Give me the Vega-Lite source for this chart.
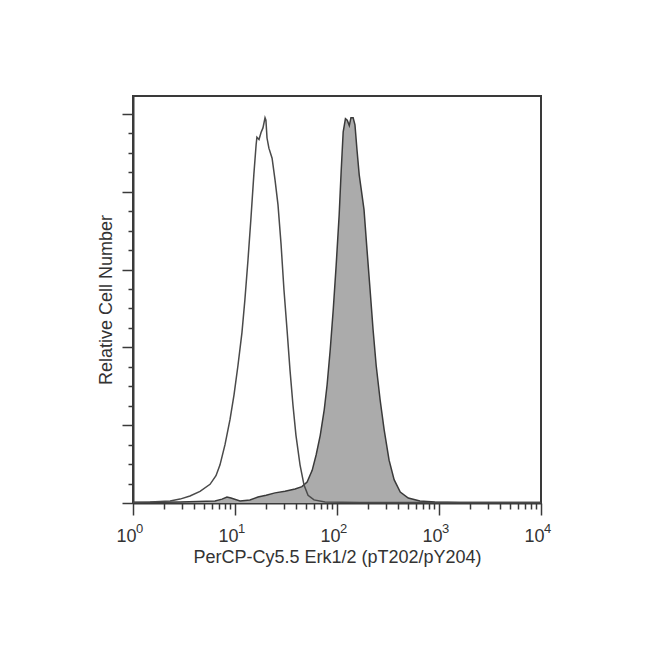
{
  "$schema": "https://vega.github.io/schema/vega-lite/v6.json",
  "width": 408,
  "height": 407,
  "autosize": {"type": "none"},
  "padding": {"left": 133, "top": 96, "right": 109, "bottom": 159},
  "background": "white",
  "config": {
    "view": {"stroke": "#3a3a3a", "strokeWidth": 2},
    "font": "Liberation Sans"
  },
  "data": {
    "values": [
      {"series": "control", "x": 1, "y": 0.01},
      {"series": "control", "x": 1.47, "y": 0.013},
      {"series": "control", "x": 2.31, "y": 0.026},
      {"series": "control", "x": 2.89, "y": 0.05},
      {"series": "control", "x": 3.62, "y": 0.09},
      {"series": "control", "x": 4.54, "y": 0.15},
      {"series": "control", "x": 5.69, "y": 0.24},
      {"series": "control", "x": 6.51, "y": 0.35},
      {"series": "control", "x": 7.13, "y": 0.49},
      {"series": "control", "x": 7.98, "y": 0.75},
      {"series": "control", "x": 8.93, "y": 1.07},
      {"series": "control", "x": 9.78, "y": 1.39},
      {"series": "control", "x": 10.7, "y": 1.77},
      {"series": "control", "x": 11.7, "y": 2.19},
      {"series": "control", "x": 12.5, "y": 2.61},
      {"series": "control", "x": 13.4, "y": 3.12},
      {"series": "control", "x": 14.3, "y": 3.64},
      {"series": "control", "x": 15.3, "y": 4.22},
      {"series": "control", "x": 16.1, "y": 4.6},
      {"series": "control", "x": 16.4, "y": 4.7},
      {"series": "control", "x": 17.2, "y": 4.67},
      {"series": "control", "x": 18.0, "y": 4.76},
      {"series": "control", "x": 18.8, "y": 4.82},
      {"series": "control", "x": 19.7, "y": 4.95},
      {"series": "control", "x": 20.1, "y": 4.92},
      {"series": "control", "x": 20.6, "y": 4.69},
      {"series": "control", "x": 21.5, "y": 4.56},
      {"series": "control", "x": 23.1, "y": 4.43},
      {"series": "control", "x": 24.7, "y": 4.15},
      {"series": "control", "x": 26.4, "y": 3.83},
      {"series": "control", "x": 28.3, "y": 3.32},
      {"series": "control", "x": 30.2, "y": 2.74},
      {"series": "control", "x": 32.4, "y": 2.22},
      {"series": "control", "x": 34.6, "y": 1.71},
      {"series": "control", "x": 37.0, "y": 1.26},
      {"series": "control", "x": 39.6, "y": 0.87},
      {"series": "control", "x": 43.4, "y": 0.49},
      {"series": "control", "x": 47.5, "y": 0.23},
      {"series": "control", "x": 52.0, "y": 0.1},
      {"series": "control", "x": 59.5, "y": 0.04},
      {"series": "control", "x": 76.3, "y": 0.013},
      {"series": "control", "x": 168, "y": 0.006},
      {"series": "control", "x": 650, "y": 0.006},
      {"series": "control", "x": 10000, "y": 0.006},
      {"series": "stimulated", "x": 1, "y": 0.006},
      {"series": "stimulated", "x": 2.89, "y": 0.013},
      {"series": "stimulated", "x": 6.37, "y": 0.026},
      {"series": "stimulated", "x": 7.46, "y": 0.05},
      {"series": "stimulated", "x": 8.34, "y": 0.077},
      {"series": "stimulated", "x": 9.13, "y": 0.064},
      {"series": "stimulated", "x": 11.2, "y": 0.026},
      {"series": "stimulated", "x": 14.0, "y": 0.039},
      {"series": "stimulated", "x": 16.8, "y": 0.077},
      {"series": "stimulated", "x": 20.2, "y": 0.1},
      {"series": "stimulated", "x": 24.7, "y": 0.13},
      {"series": "stimulated", "x": 30.9, "y": 0.15},
      {"series": "stimulated", "x": 38.8, "y": 0.18},
      {"series": "stimulated", "x": 45.3, "y": 0.21},
      {"series": "stimulated", "x": 50.9, "y": 0.27},
      {"series": "stimulated", "x": 57.1, "y": 0.42},
      {"series": "stimulated", "x": 62.5, "y": 0.62},
      {"series": "stimulated", "x": 68.5, "y": 0.87},
      {"series": "stimulated", "x": 75.0, "y": 1.2},
      {"series": "stimulated", "x": 80.0, "y": 1.52},
      {"series": "stimulated", "x": 85.8, "y": 1.97},
      {"series": "stimulated", "x": 91.8, "y": 2.48},
      {"series": "stimulated", "x": 98.2, "y": 3.06},
      {"series": "stimulated", "x": 105, "y": 3.7},
      {"series": "stimulated", "x": 110, "y": 4.28},
      {"series": "stimulated", "x": 115, "y": 4.77},
      {"series": "stimulated", "x": 121, "y": 4.94},
      {"series": "stimulated", "x": 126, "y": 4.92},
      {"series": "stimulated", "x": 132, "y": 4.85},
      {"series": "stimulated", "x": 137, "y": 4.95},
      {"series": "stimulated", "x": 144, "y": 4.95},
      {"series": "stimulated", "x": 150, "y": 4.86},
      {"series": "stimulated", "x": 157, "y": 4.54},
      {"series": "stimulated", "x": 165, "y": 4.22},
      {"series": "stimulated", "x": 172, "y": 4.05},
      {"series": "stimulated", "x": 184, "y": 3.77},
      {"series": "stimulated", "x": 197, "y": 3.25},
      {"series": "stimulated", "x": 211, "y": 2.74},
      {"series": "stimulated", "x": 226, "y": 2.22},
      {"series": "stimulated", "x": 242, "y": 1.77},
      {"series": "stimulated", "x": 265, "y": 1.32},
      {"series": "stimulated", "x": 290, "y": 0.94},
      {"series": "stimulated", "x": 324, "y": 0.55},
      {"series": "stimulated", "x": 363, "y": 0.3},
      {"series": "stimulated", "x": 417, "y": 0.14},
      {"series": "stimulated", "x": 500, "y": 0.064},
      {"series": "stimulated", "x": 650, "y": 0.026},
      {"series": "stimulated", "x": 910, "y": 0.013},
      {"series": "stimulated", "x": 1600, "y": 0.006},
      {"series": "stimulated", "x": 10000, "y": 0.006}
    ]
  },
  "layer": [
    {
      "transform": [{"filter": "datum.series === 'stimulated'"}],
      "mark": {"type": "area", "color": "#ababab", "opacity": 1, "line": {"color": "#3a3a3a", "strokeWidth": 1.5}},
      "encoding": {
        "x": {
          "field": "x", "type": "quantitative",
          "scale": {"type": "log", "domain": [1, 10000], "nice": false},
          "axis": {
            "orient": "bottom",
            "values": [1, 10, 100, 1000, 10000],
            "labelExpr": "'10'",
            "labelOffset": -7,
            "tickSize": 12, "tickColor": "#3a3a3a", "tickWidth": 1.5,
            "domainColor": "#3a3a3a", "domainWidth": 2,
            "grid": false,
            "labelFont": "Liberation Sans", "labelFontSize": 18, "labelColor": "#333333",
            "labelPadding": 12, "labelFlush": false, "labelOverlap": false,
            "title": "PerCP-Cy5.5 Erk1/2 (pT202/pY204)",
            "titleFont": "Liberation Sans", "titleFontSize": 18, "titleFontWeight": "normal",
            "titleColor": "#333333", "titlePadding": 3
          }
        },
        "y": {
          "field": "y", "type": "quantitative",
          "scale": {"domain": [0, 5.23], "nice": false, "zero": true},
          "axis": {
            "orient": "left",
            "values": [0, 1, 2, 3, 4, 5],
            "labels": false,
            "tickSize": 11, "tickColor": "#3a3a3a", "tickWidth": 1.5,
            "domainColor": "#3a3a3a", "domainWidth": 2,
            "grid": false,
            "title": "Relative Cell Number",
            "titleFont": "Liberation Sans", "titleFontSize": 18, "titleFontWeight": "normal",
            "titleColor": "#333333", "titlePadding": 6
          }
        }
      }
    },
    {
      "transform": [{"filter": "datum.series === 'control'"}],
      "mark": {"type": "line", "color": "#4a4a4a", "strokeWidth": 1.5},
      "encoding": {
        "x": {
          "field": "x", "type": "quantitative",
          "scale": {"type": "log", "domain": [1, 10000], "nice": false},
          "axis": {
            "orient": "bottom",
            "values": [2, 3, 4, 5, 6, 7, 8, 9, 20, 30, 40, 50, 60, 70, 80, 90, 200, 300, 400, 500, 600, 700, 800, 900, 2000, 3000, 4000, 5000, 6000, 7000, 8000, 9000],
            "labels": false, "domain": false, "grid": false,
            "tickSize": 6, "tickColor": "#3a3a3a", "tickWidth": 1.5,
            "title": null
          }
        },
        "y": {
          "field": "y", "type": "quantitative",
          "scale": {"domain": [0, 5.23], "nice": false, "zero": true},
          "axis": {
            "orient": "left",
            "values": [0.25, 0.5, 0.75, 1.25, 1.5, 1.75, 2.25, 2.5, 2.75, 3.25, 3.5, 3.75, 4.25, 4.5, 4.75],
            "labels": false, "domain": false, "grid": false,
            "tickSize": 5, "tickColor": "#3a3a3a", "tickWidth": 1.5,
            "title": null
          }
        }
      }
    },
    {
      "data": {
        "values": [
          {"x": 1, "exponent": "0"},
          {"x": 10, "exponent": "1"},
          {"x": 100, "exponent": "2"},
          {"x": 1000, "exponent": "3"},
          {"x": 10000, "exponent": "4"}
        ]
      },
      "mark": {"type": "text", "align": "left", "baseline": "alphabetic", "dx": 3, "dy": 30, "fontSize": 13, "font": "Liberation Sans", "color": "#333333"},
      "encoding": {
        "x": {"field": "x", "type": "quantitative", "scale": {"type": "log", "domain": [1, 10000], "nice": false}, "axis": null},
        "y": {"datum": 0, "type": "quantitative", "scale": {"domain": [0, 5.23], "nice": false, "zero": true}, "axis": null},
        "text": {"field": "exponent"}
      }
    }
  ],
  "resolve": {"axis": {"x": "independent", "y": "independent"}}
}
